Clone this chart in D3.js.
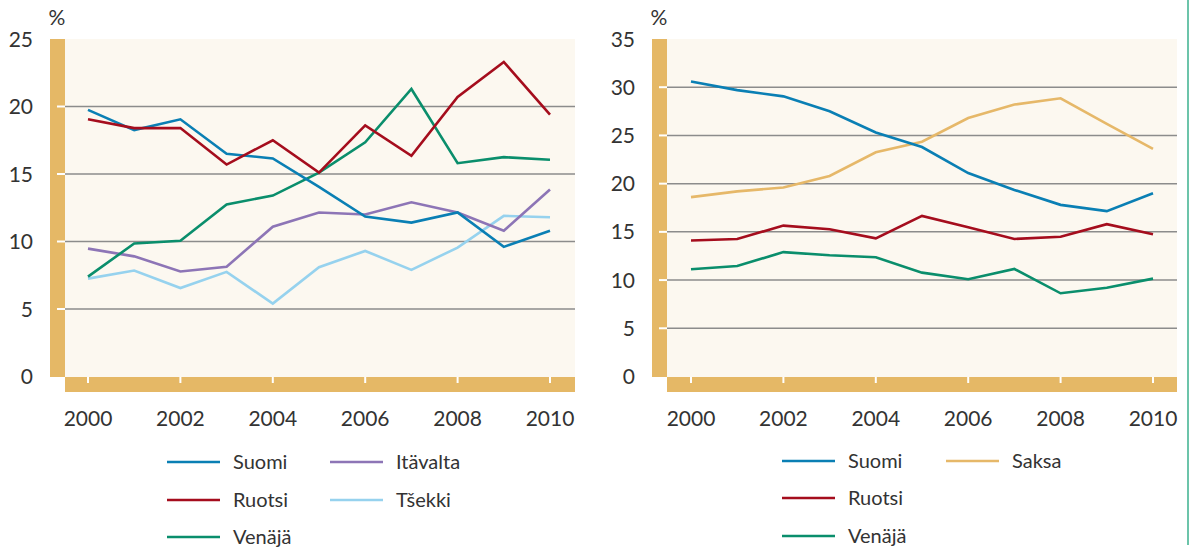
<!DOCTYPE html>
<html>
<head>
<meta charset="utf-8">
<script src="https://cdn.jsdelivr.net/npm/d3@7"></script>
<style>
  body { margin: 0; background: #fff; }
  svg { display: block; font-family: Lato, "Open Sans", sans-serif; }
</style>
</head>
<body>
<svg width="1189" height="550"></svg>
<script>
// vuodet
const years = [2000, 2001, 2002, 2003, 2004, 2005, 2006, 2007, 2008, 2009, 2010];

// vasen kuvio
const leftSuomi    = [19.75, 18.25, 19.05, 16.5, 16.15, 14.05, 11.85, 11.4, 12.15, 9.6, 10.8];
const leftRuotsi   = [19.05, 18.4, 18.4, 15.7, 17.5, 15.1, 18.6, 16.35, 20.7, 23.3, 19.4];
const leftVenaja   = [7.4, 9.85, 10.05, 12.75, 13.4, 15.1, 17.35, 21.3, 15.8, 16.25, 16.05];
const leftItavalta = [9.47, 8.9, 7.78, 8.13, 11.1, 12.15, 12.0, 12.9, 12.15, 10.8, 13.85];
const leftTsekki   = [7.25, 7.85, 6.55, 7.75, 5.4, 8.1, 9.3, 7.9, 9.55, 11.9, 11.8];

// oikea kuvio
const rightSuomi  = [30.6, 29.7, 29.05, 27.5, 25.3, 23.8, 21.1, 19.35, 17.8, 17.15, 19.0];
const rightSaksa  = [18.6, 19.2, 19.6, 20.8, 23.25, 24.35, 26.8, 28.2, 28.85, 26.2, 23.6];
const rightRuotsi = [14.1, 14.26, 15.65, 15.27, 14.33, 16.65, 15.48, 14.26, 14.5, 15.8, 14.75];
const rightVenaja = [11.12, 11.46, 12.9, 12.57, 12.36, 10.77, 10.08, 11.15, 8.63, 9.21, 10.15];

const leftTicks = [0, 5, 10, 15, 20, 25];
const rightTicks = [0, 5, 10, 15, 20, 25, 30, 35];
const xTicks = [2000, 2002, 2004, 2006, 2008, 2010];

const colors = {
  Suomi: "#0a7fb4",
  Ruotsi: "#a50d1d",
  "Venäjä": "#0a8e6c",
  "Itävalta": "#8d75b6",
  "Tšekki": "#96d2ee",
  Saksa: "#e6b869"
};

const tan = "#e5b866";
const bg = "#fcf8f0";
const grid = "#8c8c8c";
const svg = d3.select("svg");

function drawPanel(p) {
  const g = svg.append("g");
  const x = d3.scaleLinear().domain([2000, 2010]).range([p.x0, p.x1]);
  const y = d3.scaleLinear().domain([0, p.max]).range([376.5, 39]);

  // taustat
  g.append("rect").attr("x", p.left).attr("y", 39).attr("width", p.right - p.left).attr("height", 338).attr("fill", bg);
  g.append("rect").attr("x", p.left - 15).attr("y", 39).attr("width", 15).attr("height", 338).attr("fill", tan);
  g.append("rect").attr("x", p.left).attr("y", 377).attr("width", p.right - p.left).attr("height", 15).attr("fill", tan);

  // ruudukko
  p.ticks.filter(t => t > 0 && t < p.max).forEach(t => {
    g.append("line").attr("x1", p.left).attr("x2", p.right)
      .attr("y1", y(t)).attr("y2", y(t))
      .attr("stroke", grid).attr("stroke-width", 1.5);
    g.append("line").attr("x1", p.left - 8).attr("x2", p.left)
      .attr("y1", y(t)).attr("y2", y(t))
      .attr("stroke", "#fff").attr("stroke-width", 2);
  });

  // y-akselin tekstit
  g.selectAll(".ylab").data(p.ticks).enter().append("text")
    .attr("x", p.left - 32).attr("y", d => y(d)).attr("dy", "0.36em")
    .attr("text-anchor", "end").style("font-size", "21px").style("fill", "#333")
    .text(d => d);

  g.append("text").attr("x", p.left - 8).attr("y", 25)
    .attr("text-anchor", "middle").style("font-size", "21px").style("fill", "#333")
    .text("%");

  // x-akseli
  xTicks.forEach(t => {
    g.append("line").attr("x1", x(t)).attr("x2", x(t)).attr("y1", 377).attr("y2", 383)
      .attr("stroke", "#fff").attr("stroke-width", 2);
  });
  g.selectAll(".xlab").data(xTicks).enter().append("text")
    .attr("x", d => x(d)).attr("y", 426)
    .attr("text-anchor", "middle").style("font-size", "21px").style("fill", "#333")
    .text(d => d);

  // viivat
  const line = d3.line().x((d, i) => x(years[i])).y(d => y(d));
  p.series.forEach(s => {
    g.append("path").datum(s.values).attr("d", line)
      .attr("fill", "none").attr("stroke", colors[s.name])
      .attr("stroke-width", 2.6).attr("stroke-linejoin", "miter");
  });

  // selite
  p.legend.forEach(l => {
    g.append("line").attr("x1", l.x).attr("x2", l.x + 53).attr("y1", l.y).attr("y2", l.y)
      .attr("stroke", colors[l.name]).attr("stroke-width", 2.6);
    g.append("text").attr("x", l.x + 66).attr("y", l.y).attr("dy", "0.36em")
      .style("font-size", "20px").style("fill", "#333").text(l.name);
  });
}

drawPanel({
  left: 65, right: 575, x0: 88, x1: 550, max: 25, ticks: leftTicks,
  series: [
    { name: "Tšekki", values: leftTsekki },
    { name: "Itävalta", values: leftItavalta },
    { name: "Venäjä", values: leftVenaja },
    { name: "Suomi", values: leftSuomi },
    { name: "Ruotsi", values: leftRuotsi }
  ],
  legend: [
    { name: "Suomi", x: 167, y: 462 },
    { name: "Ruotsi", x: 167, y: 500 },
    { name: "Venäjä", x: 167, y: 537 },
    { name: "Itävalta", x: 330, y: 462 },
    { name: "Tšekki", x: 330, y: 500 }
  ]
});

drawPanel({
  left: 667, right: 1177, x0: 691, x1: 1153, max: 35, ticks: rightTicks,
  series: [
    { name: "Venäjä", values: rightVenaja },
    { name: "Ruotsi", values: rightRuotsi },
    { name: "Saksa", values: rightSaksa },
    { name: "Suomi", values: rightSuomi }
  ],
  legend: [
    { name: "Suomi", x: 782, y: 461 },
    { name: "Ruotsi", x: 782, y: 498 },
    { name: "Venäjä", x: 782, y: 536 },
    { name: "Saksa", x: 946, y: 461 }
  ]
});

// oikean reunan pystyviiva
svg.append("line").attr("x1", 1188).attr("x2", 1188).attr("y1", 0).attr("y2", 545)
  .attr("stroke", "#6cc4aa").attr("stroke-width", 2);
</script>
</body>
</html>
